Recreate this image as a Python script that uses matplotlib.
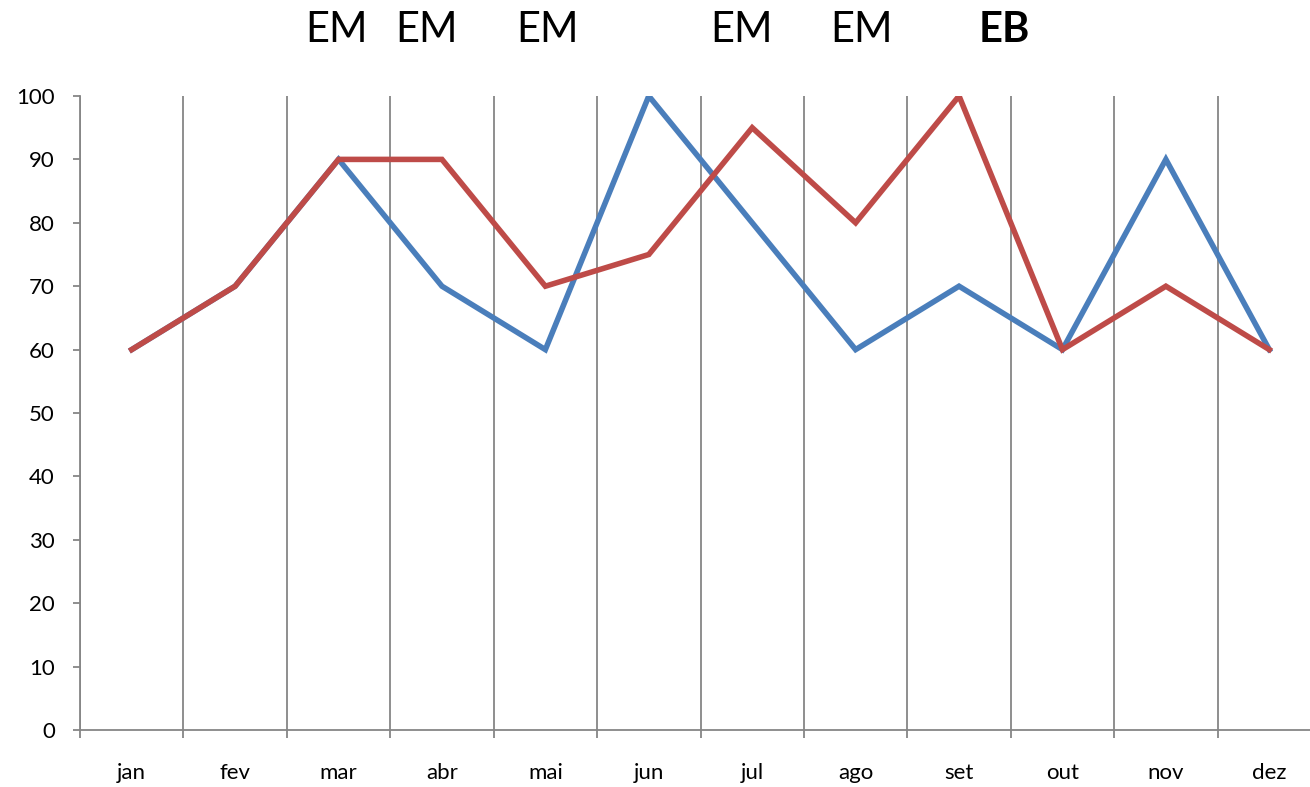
import matplotlib
matplotlib.use("Agg")
import matplotlib.pyplot as plt
import matplotlib.transforms as mtransforms
import numpy as np

months = ["jan", "fev", "mar", "abr", "mai", "jun", "jul", "ago", "set", "out", "nov", "dez"]
serie_azul = [60, 70, 90, 70, 60, 100, 80, 60, 70, 60, 90, 60]
serie_vermelha = [60, 70, 90, 90, 70, 75, 95, 80, 100, 60, 70, 60]

top_labels = ["EM", "EM", "EM", "EM", "EM", "EB"]
top_label_x = [1.98, 2.85, 4.02, 5.9, 7.06, 8.44]
top_label_bold = [False, False, False, False, False, True]

plt.rcParams["font.family"] = ["Lato", "DejaVu Sans"]

W, H = 1310, 787
fig = plt.figure(figsize=(W / 100, H / 100), dpi=100)
ax = fig.add_axes([80 / W, (H - 730) / H, (1321 - 80) / W, (730 - 96) / H])

x = np.arange(len(months))
ax.plot(x, serie_azul, color="#4A7EBB", lw=4.0, solid_joinstyle="miter", zorder=3)
ax.plot(x, serie_vermelha, color="#BE4B48", lw=4.0, solid_joinstyle="miter", zorder=4)

ax.set_xlim(-0.5, len(months) - 0.5)
ax.set_ylim(0, 100)

grid_color = "#868686"
ax.set_xticks(x)
ax.set_xticklabels(months)
ax.set_xticks(np.arange(-0.5, len(months)), minor=True)
ax.tick_params(axis="x", which="major", length=0, pad=24, labelsize=16, colors="black")
ax.tick_params(axis="x", which="minor", length=6, width=1.3, color=grid_color, direction="out")
ax.grid(axis="x", which="minor", color=grid_color, lw=1.3)
ax.grid(axis="x", which="major", visible=False)

ax.set_yticks(np.arange(0, 101, 10))
ax.tick_params(axis="y", length=5, width=1.3, color=grid_color, pad=13, labelsize=16, labelcolor="black")

for side in ("top", "right"):
    ax.spines[side].set_visible(False)
for side in ("left", "bottom"):
    ax.spines[side].set_color(grid_color)
    ax.spines[side].set_linewidth(1.3)

trans = mtransforms.blended_transform_factory(ax.transData, ax.transAxes)
for txt, xp, bold in zip(top_labels, top_label_x, top_label_bold):
    ax.text(xp, 1.104, txt, transform=trans, ha="center", va="center",
            fontsize=30, fontweight="bold" if bold else "normal", color="black")

fig.savefig("out.png", dpi=100)
